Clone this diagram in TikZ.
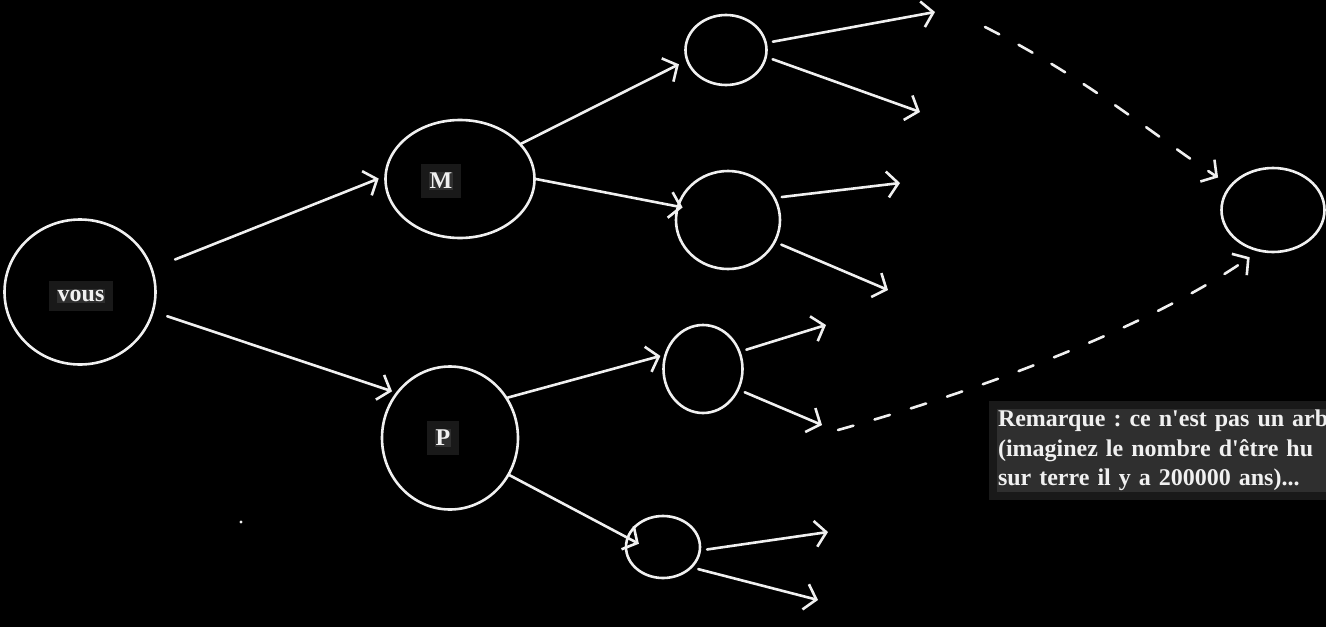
\documentclass[tikz,border=0pt]{standalone}
\usepackage{fontspec}
\setmainfont{Liberation Serif}
\usepackage{tikz}
\usetikzlibrary{positioning,arrows.meta,shapes.geometric}
\definecolor{cFond}{HTML}{000000}
\definecolor{cTrait}{HTML}{F0F0F0}
\definecolor{cEtiq}{HTML}{2F2F2F}
\definecolor{cCadre}{HTML}{191919}
\tikzset{
  bulle/.style={ellipse,draw=cTrait,line width=2.6pt,inner sep=0pt},
  etiq/.style={font=\bfseries\fontsize{24}{27}\selectfont,text=cTrait,fill=cEtiq,draw=cCadre,line width=8pt,inner sep=5pt},
  arr/.style={-{Straight Barb[length=11pt,width=26pt]},draw=cTrait,line width=2.6pt,line cap=round},
  darr/.style={arr,dash pattern=on 16pt off 22pt},
  note/.style={font=\bfseries\fontsize{24}{29.5}\selectfont,text=cTrait,fill=cEtiq,draw=cCadre,line width=8pt,inner sep=5pt,align=left,text width=345pt,anchor=north west}}
\begin{document}
\frenchspacing
\begin{tikzpicture}[x=1pt,y=-1pt]
\useasboundingbox (0,0) rectangle (1326,627);
\fill[cFond] (0,0) rectangle (1326,627);
\node[bulle,minimum width=151pt,minimum height=145pt] (vous) at (80,292) {};
\node[bulle,minimum width=149pt,minimum height=118pt] (M) at (460,179) {};
\node[bulle,minimum width=136pt,minimum height=143pt] (P) at (450,438) {};
\node[bulle,minimum width=81pt,minimum height=70pt] (mh) at (726,50) {};
\node[bulle,minimum width=104pt,minimum height=98pt] (mb) at (728,220) {};
\node[bulle,minimum width=79pt,minimum height=88pt] (ph) at (703,369) {};
\node[bulle,minimum width=74pt,minimum height=62pt] (pb) at (663,547) {};
\node[bulle,minimum width=103pt,minimum height=84pt] (loin) at (1273,210) {};
\node[etiq] (vousT) at (81,296) {vous};
\node[etiq] (MT) at (441,181) {M};
\node[etiq] (PT) at (443,438) {P};
\draw[arr,shorten <=24pt,shorten >=6pt] (vous.18) -- (M.178);
\draw[arr,shorten <=14pt,shorten >=4pt] (vous.-15) -- (P.140);
\draw[arr,shorten >=8pt] (M.30) -- (mh.195);
\draw[arr,shorten >=-6pt] (M.0) -- (mb.165);
\draw[arr,shorten >=4pt] (P.35) -- (ph.160);
\draw[arr,shorten >=-14pt] (P.-32) -- (pb.165);
\coordinate (mh1) at (935,12);  \coordinate (mh2) at (920,112);
\coordinate (mb1) at (900,183); \coordinate (mb2) at (888,290);
\coordinate (ph1) at (826,325); \coordinate (ph2) at (822,425);
\coordinate (pb1) at (828,532); \coordinate (pb2) at (818,600);
\foreach \src/\ang/\dst in {mh/10/mh1, mh/-10/mh2, mb/25/mb1, mb/-25/mb2, ph/25/ph1, ph/-30/ph2, pb/-5/pb1, pb/-35/pb2}
  \draw[arr,shorten <=6pt] (\src.\ang) -- (\dst);
\coordinate (d1) at (985,27);
\coordinate (d2) at (838,430);
\draw[darr,shorten >=14pt] (d1) .. controls (1090,80) and (1160,140) .. (loin.150);
\draw[darr,shorten >=10pt] (d2) .. controls (1000,385) and (1160,320) .. (loin.250);
\fill[cTrait] (241,522) circle (1.6pt);
\node[note] (rem) at (989,401) {Remarque : ce n\textquotesingle est pas un arb\\(imaginez le nombre d\textquotesingle être hu\\sur terre il y a 200000 ans)...};
\end{tikzpicture}
\end{document}
